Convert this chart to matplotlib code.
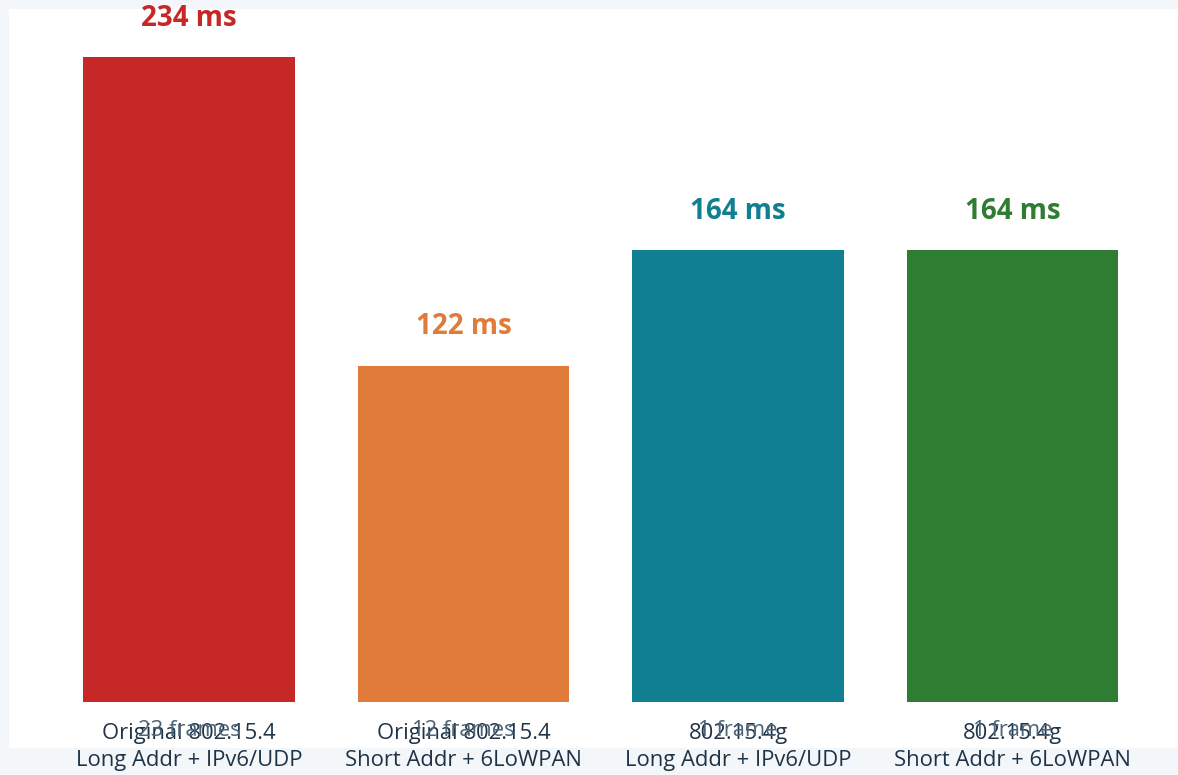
import numpy as np
import matplotlib
import matplotlib.pyplot as plt
matplotlib.use('Agg')

plt.rcParams['font.family'] = ['Open Sans', 'DejaVu Sans']

configs = ["Original 802.15.4\nLong Addr + IPv6/UDP",
           "Original 802.15.4\nShort Addr + 6LoWPAN",
           "802.15.4g\nLong Addr + IPv6/UDP",
           "802.15.4g\nShort Addr + 6LoWPAN"]
frames = ["23 frames", "12 frames", "1 frame", "1 frame"]
latency_ms = [234, 122, 164, 164]
colors = ["#c62828", "#e07b39", "#0f7f91", "#2e7d32"]

fig = plt.figure(figsize=(11.78, 7.75), dpi=100, facecolor="#f3f7fa")
ax = fig.add_axes([9 / 1178, 27 / 775, 1 - 9 / 1178, 739 / 775])
ax.set_facecolor("white")

x = np.arange(len(configs))
ax.bar(x, latency_ms, width=0.772, color=colors)

for i, v in enumerate(latency_ms):
    ax.annotate(f"{v} ms", (x[i], v), xytext=(0, 28), textcoords="offset points",
                ha="center", va="center", fontsize=20, fontweight="bold",
                color=colors[i])
    ax.annotate(configs[i], (x[i], 0), xytext=(0, -32.5), textcoords="offset points",
                ha="center", va="center", fontsize=15.8, color="#1f3347",
                linespacing=1.35, annotation_clip=False)
    ax.annotate(frames[i], (x[i], 0), xytext=(0, -20.5), textcoords="offset points",
                ha="center", va="center", fontsize=15.8, color="#4d6578",
                annotation_clip=False)

ax.set_xlim(-0.656, 3.603)
ax.set_ylim(-16.7, 251.4)
for s in ax.spines.values():
    s.set_visible(False)
ax.set_xticks([])
ax.set_yticks([])

fig.savefig("out.png", dpi=100, facecolor=fig.get_facecolor())
plt.close(fig)
